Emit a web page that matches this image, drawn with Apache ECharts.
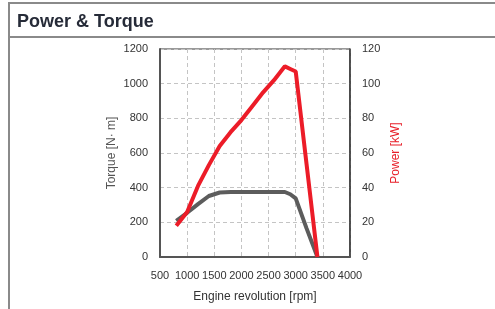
<!DOCTYPE html>
<html>
<head>
<meta charset="utf-8">
<script src="https://cdn.jsdelivr.net/npm/echarts@6/dist/echarts.min.js"></script>
<style>
  html, body { margin: 0; padding: 0; background: #fff; }
  .main { width: 495px; height: 309px; }
</style>
</head>
<body>
<div class="main"></div>
<script>
// engine speed [rpm]
let rpm = [800, 1000, 1200, 1400, 1600, 1800, 2000, 2200, 2400, 2600, 2800, 2900, 3000, 3200, 3400];
// torque [N·m]
let torque = [208, 255, 305, 352, 372, 375, 375, 375, 375, 375, 375, 362, 338, 165, 0];
// power [kW]
let power = [18, 26, 41, 53, 64, 72, 79, 87, 95, 102, 110, 108.5, 107, 53.5, 0];

let chartDom = document.querySelector('.main');
let myChart = echarts.init(chartDom);

let pair = (xs, ys) => xs.map((x, i) => [x, ys[i]]);
let labelFont = { color: '#333', fontSize: 11, fontFamily: 'Liberation Sans, Arial, sans-serif', formatter: v => String(v) };
let dashed = { show: true, lineStyle: { color: '#c4c4c4', type: [4, 3], width: 1 } };

let option = {
    backgroundColor: '#fff',
    animation: false,
    // panel header
    title: {
        text: 'Power & Torque',
        left: 12,
        top: 8,
        textStyle: { color: '#262b38', fontSize: 18, fontWeight: 'bold', fontFamily: 'Liberation Sans, Arial, sans-serif' }
    },
    // panel frame
    graphic: [
        { type: 'line', shape: { x1: 8, y1: 3, x2: 495, y2: 3 }, style: { stroke: '#8a8a8a', lineWidth: 2 } },
        { type: 'line', shape: { x1: 9, y1: 2, x2: 9, y2: 309 }, style: { stroke: '#8a8a8a', lineWidth: 2 } },
        { type: 'line', shape: { x1: 8, y1: 37, x2: 495, y2: 37 }, style: { stroke: '#8a8a8a', lineWidth: 2 } }
    ],
    grid: {
        left: 160, right: 145, top: 49, bottom: 52,
        show: true, borderColor: '#333', borderWidth: 1
    },
    xAxis: {
        type: 'value',
        min: 500, max: 4000, interval: 500,
        name: 'Engine revolution [rpm]',
        nameLocation: 'middle',
        nameGap: 34,
        nameTextStyle: { color: '#333', fontSize: 12 },
        axisLine: { show: true, lineStyle: { color: '#555', width: 2 } },
        axisTick: { show: false },
        axisLabel: Object.assign({ margin: 13, showMinLabel: true, showMaxLabel: true }, labelFont),
        splitLine: dashed
    },
    yAxis: [
        {
            type: 'value',
            min: 0, max: 1200, interval: 200,
            name: 'Torque [N· m]',
            nameLocation: 'middle',
            nameGap: 42,
            nameTextStyle: { color: '#555', fontSize: 12 },
            axisLine: { show: true, lineStyle: { color: '#555', width: 2 } },
            axisTick: { show: false },
            axisLabel: Object.assign({ margin: 12 }, labelFont),
            splitLine: dashed
        },
        {
            type: 'value',
            min: 0, max: 120, interval: 20,
            name: 'Power [kW]',
            nameLocation: 'middle',
            nameGap: 40,
            nameRotate: 90,
            nameTextStyle: { color: '#e8202a', fontSize: 12 },
            axisLine: { show: true, lineStyle: { color: '#333', width: 1.5 } },
            axisTick: { show: false },
            axisLabel: Object.assign({ margin: 12 }, labelFont),
            splitLine: { show: false }
        }
    ],
    series: [
        {
            name: 'Torque',
            type: 'line',
            yAxisIndex: 0,
            data: pair(rpm, torque),
            symbol: 'none',
            lineStyle: { color: '#5c5c5c', width: 4 },
            z: 2
        },
        {
            name: 'Power',
            type: 'line',
            yAxisIndex: 1,
            data: pair(rpm, power),
            symbol: 'none',
            lineStyle: { color: '#ec1c28', width: 4 },
            z: 3
        }
    ]
};

option && myChart.setOption(option);
</script>
</body>
</html>
